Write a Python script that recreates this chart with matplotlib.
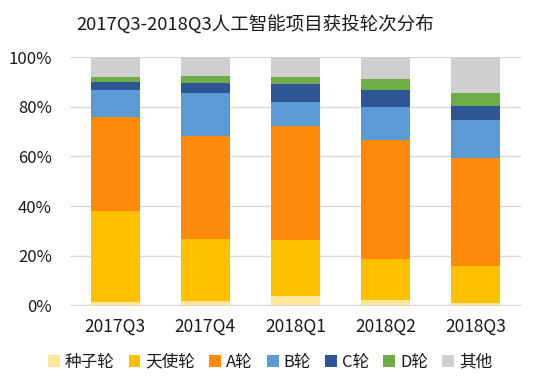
import matplotlib
matplotlib.use("Agg")
import matplotlib.pyplot as plt
import numpy as np

plt.rcParams['font.family'] = ['Noto Sans CJK SC', 'DejaVu Sans']

# ===== Date =====
quarters = ["2017Q3", "2017Q4", "2018Q1", "2018Q2", "2018Q3"]
rounds = ["种子轮", "天使轮", "A轮", "B轮", "C轮", "D轮", "其他"]

seed  = [1.1, 1.6, 3.6, 2.0, 0.8]
angel = [36.8, 24.9, 22.5, 16.8, 15.1]
a_rnd = [38.0, 41.6, 46.4, 48.0, 43.6]
b_rnd = [11.1, 17.7, 9.5, 13.3, 15.1]
c_rnd = [3.0, 3.9, 7.2, 6.9, 5.9]
d_rnd = [1.9, 2.8, 2.7, 4.3, 5.1]
other = [8.1, 7.5, 8.1, 8.7, 14.4]

colors = ["#FFE699", "#FFC000", "#FD8A0A", "#5B9BD5", "#2F5597", "#70AD47", "#D0CECE"]

series = [seed, angel, a_rnd, b_rnd, c_rnd, d_rnd, other]

fig = plt.figure(figsize=(5.49, 3.80), dpi=100)
ax = fig.add_axes([0.1275, 0.197, 0.8215, 0.652])

x = np.arange(len(quarters))
bottom = np.zeros(len(quarters))
for name, vals, col in zip(rounds, series, colors):
    v = np.array(vals) / 100.0
    ax.bar(x, v, 0.545, bottom=bottom, color=col, label=name, zorder=3)
    bottom += v

ax.set_ylim(0, 1)
ax.set_xlim(-0.5, len(quarters) - 0.5)
ax.set_yticks(np.arange(0, 1.01, 0.2))
ax.set_yticklabels([f"{int(round(t*100))}%" for t in np.arange(0, 1.01, 0.2)])
ax.set_xticks(x)
ax.set_xticklabels(quarters)
ax.tick_params(axis='both', length=0, labelsize=12.5, colors="#1a1a1a")
ax.tick_params(axis='x', pad=9)
ax.tick_params(axis='y', labelsize=12, pad=13)
ax.grid(axis='y', color="#D9D9D9", linewidth=1, zorder=0)
for s in ["top", "right", "left"]:
    ax.spines[s].set_visible(False)
ax.spines["bottom"].set_color("#D9D9D9")

fig.text(0.465, 0.934, "2017Q3-2018Q3人工智能项目获投轮次分布", ha="center", va="center",
         fontsize=13.3, color="#1a1a1a")

handles, labels = ax.get_legend_handles_labels()
fig.legend(handles, labels, loc="center", bbox_to_anchor=(270 / 549, 1 - 362 / 380), ncol=7,
           frameon=False, fontsize=12, handlelength=0.7, handleheight=0.7, handletextpad=0.3,
           columnspacing=0.85, labelcolor="#1a1a1a", borderaxespad=0, borderpad=0)

fig.savefig("out.png", dpi=100)
